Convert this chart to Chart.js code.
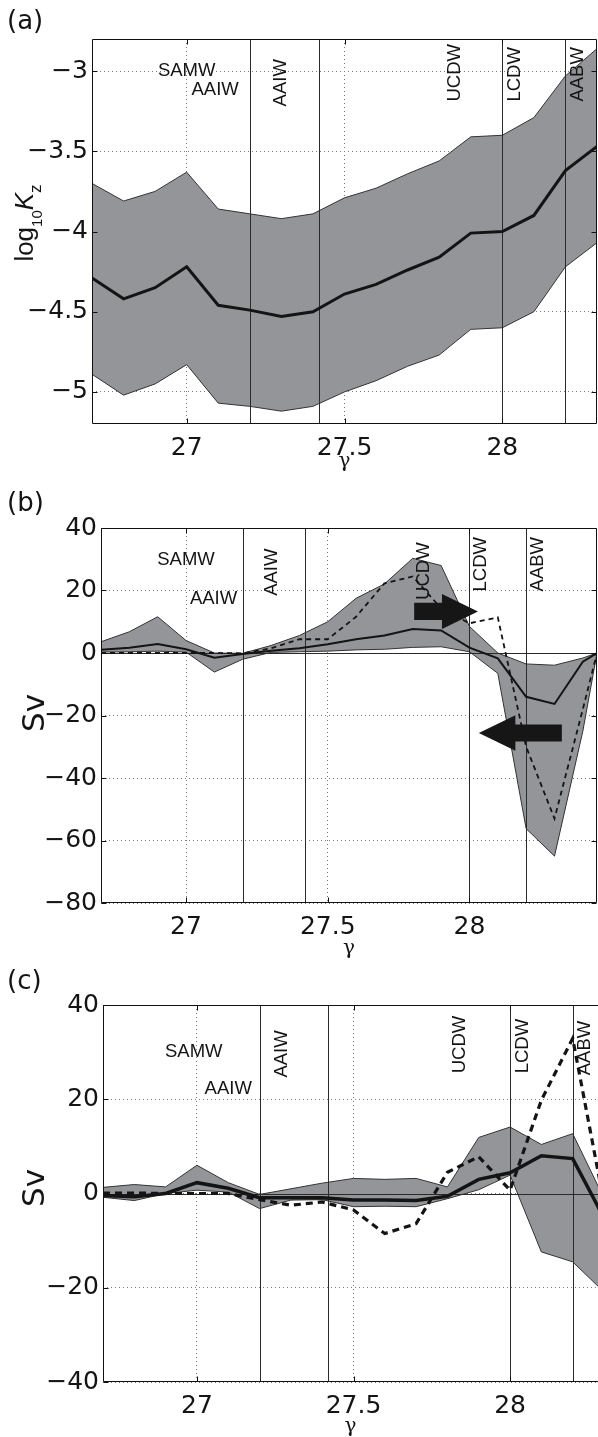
<!DOCTYPE html>
<html>
<head>
<meta charset="utf-8">
<script src="https://cdn.jsdelivr.net/npm/chart.js@4.4.1/dist/chart.umd.min.js"></script>
<style>
  html, body { margin: 0; padding: 0; background: #fff; }
  body { width: 598px; height: 1437px; overflow: hidden; position: relative; }
  canvas { position: absolute; left: 0; }
</style>
</head>
<body>
<canvas id="panelA" width="598" height="480" style="top:0px"></canvas>
<canvas id="panelB" width="598" height="480" style="top:480px"></canvas>
<canvas id="panelC" width="606" height="477" style="top:960px"></canvas>
<script>
// neutral density classes (gamma), one value every 0.1
const gammaA = [26.7, 26.8, 26.9, 27.0, 27.1, 27.2, 27.3, 27.4, 27.5, 27.6, 27.7, 27.8, 27.9, 28.0, 28.1, 28.2, 28.3];
const gammaB = [26.7, 26.8, 26.9, 27.0, 27.1, 27.2, 27.3, 27.4, 27.5, 27.6, 27.7, 27.8, 27.9, 28.0, 28.1, 28.2, 28.3, 28.4, 28.45];
const gammaC = [26.7, 26.8, 26.9, 27.0, 27.1, 27.2, 27.3, 27.4, 27.5, 27.6, 27.7, 27.8, 27.9, 28.0, 28.1, 28.2, 28.3];

// (a) log10 Kz
const kzUpper = [-3.70, -3.81, -3.75, -3.63, -3.86, -3.89, -3.92, -3.89, -3.79, -3.73, -3.64, -3.56, -3.41, -3.40, -3.29, -3.03, -2.86];
const kzMean  = [-4.29, -4.42, -4.35, -4.22, -4.46, -4.49, -4.53, -4.50, -4.39, -4.33, -4.24, -4.16, -4.01, -4.00, -3.90, -3.62, -3.47];
const kzLower = [-4.89, -5.02, -4.95, -4.83, -5.07, -5.09, -5.12, -5.09, -5.00, -4.93, -4.84, -4.77, -4.61, -4.60, -4.50, -4.22, -4.07];

// (b) transport, Sv
const svUpperB = [3.6, 6.8, 11.6, 4.0, 0.0, -0.1, 2.4, 5.6, 10.0, 17.5, 22.1, 30.3, 28.0, 8.5, 0.0, -3.5, -3.9, -1.6, 0];
const svLowerB = [0.3, 0.4, 0.6, 0.3, -6.1, -2.0, 0.2, 0.4, 0.6, 1.0, 1.2, 1.8, 2.0, 0.4, -6.5, -56.2, -65.0, -25.0, 0];
const svMeanB  = [1.0, 1.7, 2.9, 1.2, -1.5, -0.3, 0.7, 1.5, 2.8, 4.4, 5.6, 7.7, 7.2, 1.7, -1.7, -14.0, -16.3, -2.8, 0];
const svDashB  = [0, 0, 0, 0, 0, -0.1, 1.5, 4.4, 4.4, 11.6, 22.3, 24.5, 14.3, 9.5, 11.4, -30.0, -53.0, -18.0, 0];

// (c) transport, Sv
const svUpperC = [1.3, 1.9, 1.4, 6.0, 2.3, -0.2, 1.0, 2.2, 3.2, 3.0, 3.2, 1.4, 11.9, 14.1, 10.4, 12.7, -1.0];
const svLowerC = [-0.8, -1.5, 0, 0.7, 0.3, -3.2, -1.4, -1.3, -2.8, -2.7, -2.8, -1.1, 0.8, 3.9, -12.4, -14.5, -20.9];
const svMeanC  = [-0.4, -0.7, 0, 2.3, 1.1, -0.9, -0.9, -0.9, -1.4, -1.4, -1.5, -0.6, 3.0, 4.4, 8.0, 7.4, -5.2];
const svDashC  = [0.1, 0.1, 0, 0, 0, -1.3, -2.5, -1.8, -3.5, -8.5, -6.4, 4.5, 7.8, 0.7, 19.8, 32.9, -2.0];

// tick labels
const gammaTicks = [27, 27.5, 28];
const kzTicks = [-5, -4.5, -4, -3.5, -3];
const svTicksB = [-80, -60, -40, -20, 0, 20, 40];
const svTicksC = [-40, -20, 0, 20, 40];

// water mass boundaries and names
const massBounds = [27.2, 27.42, 28.0, 28.2];
const massNames = ['SAMW', 'AAIW', 'AAIW', 'UCDW', 'LCDW', 'AABW'];
const nameRotated = [false, false, true, true, true, true];
const nameGammaA = [27.0, 27.09, 27.30, 27.85, 28.04, 28.24];
const nameKzA = [-3.0, -3.12, -3.22, -3.19, -3.19, -3.19];
const nameGammaB = [27.0, 27.097, 27.303, 27.84, 28.04, 28.24];
const nameSvB = [29.8, 17.4, 18.3, 17.0, 19.7, 19.7];
const nameGammaC = [26.99, 27.10, 27.272, 27.84, 28.04, 28.24];
const nameSvC = [30.0, 22.2, 24.6, 25.5, 25.5, 25.1];

// (b) arrows: tail, neck, tip (gamma) and centre, half shaft, half head (Sv)
const arrowsB = [
  { tail: 27.805, neck: 27.903, tip: 28.03, y: 13.3, shaft: 2.75, head: 5.6 },
  { tail: 28.326, neck: 28.162, tip: 28.033, y: -25.6, shaft: 2.7, head: 5.65 },
];

const FILL = '#939598';
const EDGE = '#333333';
const INK = '#141414';
const TICK_FONT = { family: 'DejaVu Sans', size: 25 };

function pts(xs, ys) {
  return xs.map((v, i) => ({ x: v, y: ys[i] }));
}

function minusFmt(v) {
  return (v < 0 ? '\u2212' : '') + Math.abs(v);
}

function makeDecor(cfg) {
  return {
    id: 'decor' + cfg.letter,
    afterDatasetDraw(chart, args) {
      if (args.index !== 1) return;
      const { ctx, chartArea: area, scales } = chart;
      ctx.save();
      ctx.strokeStyle = '#2a2a2a';
      ctx.lineWidth = 1;
      ctx.beginPath();
      massBounds.forEach((v) => {
        const px = Math.round(scales.x.getPixelForValue(v)) + 0.5;
        ctx.moveTo(px, area.top);
        ctx.lineTo(px, area.bottom);
      });
      if (cfg.zeroLine) {
        const py = Math.round(scales.y.getPixelForValue(0)) + 0.5;
        ctx.moveTo(area.left, py);
        ctx.lineTo(area.right, py);
      }
      ctx.stroke();
      ctx.restore();
    },
    afterDraw(chart) {
      const { ctx, chartArea: area, scales } = chart;
      const sx = scales.x, sy = scales.y;
      ctx.save();

      // arrows
      ctx.fillStyle = '#161616';
      (cfg.arrows || []).forEach((a) => {
        const poly = [
          [a.tail, a.y + a.shaft], [a.neck, a.y + a.shaft], [a.neck, a.y + a.head],
          [a.tip, a.y], [a.neck, a.y - a.head], [a.neck, a.y - a.shaft], [a.tail, a.y - a.shaft],
        ];
        ctx.beginPath();
        poly.forEach((p, i) => {
          const px = sx.getPixelForValue(p[0]), py = sy.getPixelForValue(p[1]);
          if (i === 0) ctx.moveTo(px, py); else ctx.lineTo(px, py);
        });
        ctx.closePath();
        ctx.fill();
      });

      // box + inward tick marks
      const L = Math.round(area.left) + 0.5, R = Math.round(area.right) - 0.5;
      const T = Math.round(area.top) + 0.5, B = Math.round(area.bottom) - 0.5;
      ctx.strokeStyle = '#111';
      ctx.lineWidth = 1;
      ctx.beginPath();
      ctx.moveTo(L, T); ctx.lineTo(R + (cfg.noRight ? 2 : 0), T);
      ctx.moveTo(L, T); ctx.lineTo(L, B);
      ctx.moveTo(L, B); ctx.lineTo(R + (cfg.noRight ? 2 : 0), B);
      if (!cfg.noRight) { ctx.moveTo(R, T); ctx.lineTo(R, B); }
      cfg.xTicks.forEach((v) => {
        const px = Math.round(sx.getPixelForValue(v)) + 0.5;
        ctx.moveTo(px, B); ctx.lineTo(px, B - 5);
        ctx.moveTo(px, T); ctx.lineTo(px, T + 5);
      });
      cfg.yTicks.forEach((v) => {
        const py = Math.round(sy.getPixelForValue(v)) + 0.5;
        ctx.moveTo(L, py); ctx.lineTo(L + 5, py);
        if (!cfg.noRight) { ctx.moveTo(R, py); ctx.lineTo(R - 5, py); }
      });
      ctx.stroke();

      // water mass names
      ctx.fillStyle = INK;
      ctx.font = '18.5px "Liberation Sans"';
      ctx.textBaseline = 'middle';
      massNames.forEach((name, i) => {
        const px = sx.getPixelForValue(cfg.nameX[i]);
        const py = sy.getPixelForValue(cfg.nameY[i]);
        if (nameRotated[i]) {
          ctx.save();
          ctx.translate(px, py);
          ctx.rotate(-Math.PI / 2);
          ctx.textAlign = 'left';
          ctx.fillText(name, 0, 0);
          ctx.restore();
        } else {
          ctx.textAlign = 'center';
          ctx.fillText(name, px, py);
        }
      });

      // panel letter
      ctx.textBaseline = 'alphabetic';
      ctx.textAlign = 'left';
      ctx.font = '26px "DejaVu Sans"';
      ctx.fillText('(' + cfg.letter + ')', 7, cfg.letterY);

      // x title
      ctx.textAlign = 'center';
      ctx.font = '20px "DejaVu Serif"';
      ctx.fillText('\u03b3', (area.left + Math.min(area.right, 598)) / 2, cfg.gammaY);

      // y title, drawn as rotated runs (for subscripts)
      let total = 0;
      cfg.yTitle.forEach((r) => { ctx.font = r.font; total += ctx.measureText(r.text).width; });
      ctx.save();
      ctx.translate(cfg.yTitleX, cfg.yTitleCenter + total / 2);
      ctx.rotate(-Math.PI / 2);
      ctx.textAlign = 'left';
      let off = 0;
      cfg.yTitle.forEach((r) => {
        ctx.font = r.font;
        ctx.fillText(r.text, off, r.dy);
        off += ctx.measureText(r.text).width;
      });
      ctx.restore();

      ctx.restore();
    },
  };
}

function makeChart(id, cfg) {
  const datasets = [
    { data: pts(cfg.xs, cfg.upper), borderColor: EDGE, borderWidth: 1, backgroundColor: FILL, fill: '+1', order: 4 },
    { data: pts(cfg.xs, cfg.lower), borderColor: EDGE, borderWidth: 1, fill: false, order: 3 },
    { data: pts(cfg.xs, cfg.mean), borderColor: INK, borderWidth: cfg.meanWidth, fill: false, order: 1 },
  ];
  if (cfg.dash) {
    datasets.push({ data: pts(cfg.xs, cfg.dash), borderColor: INK, borderWidth: cfg.dashWidth, borderDash: cfg.dashPattern, fill: false, order: 2 });
  }
  return new Chart(document.getElementById(id), {
    type: 'line',
    data: { datasets },
    options: {
      responsive: false,
      animation: false,
      devicePixelRatio: 1,
      layout: { padding: { left: 0, top: cfg.top, right: cfg.right, bottom: 0 } },
      elements: { point: { radius: 0 }, line: { tension: 0 } },
      plugins: { legend: { display: false }, tooltip: { enabled: false } },
      scales: {
        x: {
          type: 'linear',
          min: cfg.xMin,
          max: cfg.xMax,
          afterBuildTicks: (s) => { s.ticks = gammaTicks.map((v) => ({ value: v })); },
          afterFit: (s) => { s.height = cfg.xAxisHeight; },
          grid: { color: '#7a7a7a', lineWidth: 1, drawTicks: false },
          border: { display: false, dash: [1, 3] },
          ticks: { font: TICK_FONT, color: INK, padding: 9, maxRotation: 0, autoSkip: false, callback: minusFmt },
        },
        y: {
          type: 'linear',
          min: cfg.yMin,
          max: cfg.yMax,
          afterBuildTicks: (s) => { s.ticks = cfg.yTicks.map((v) => ({ value: v })); },
          afterFit: (s) => { s.width = cfg.yAxisWidth; },
          grid: { color: '#7a7a7a', lineWidth: 1, drawTicks: false },
          border: { display: false, dash: [1, 3] },
          ticks: { font: TICK_FONT, color: INK, padding: 4, autoSkip: false, callback: minusFmt },
        },
      },
    },
    plugins: [makeDecor(cfg)],
  });
}

makeChart('panelA', {
  letter: 'a', letterY: 29, gammaY: 467,
  xs: gammaA, upper: kzUpper, lower: kzLower, mean: kzMean, meanWidth: 3,
  xMin: 26.7, xMax: 28.3, yMin: -5.2, yMax: -2.8,
  xTicks: gammaTicks, yTicks: kzTicks,
  top: 39, right: 1, xAxisHeight: 56, yAxisWidth: 92,
  nameX: nameGammaA, nameY: nameKzA,
  yTitleX: 33, yTitleCenter: 223,
  yTitle: [
    { text: 'log', font: '26px "Liberation Sans"', dy: 0 },
    { text: '10', font: '15px "Liberation Sans"', dy: 9 },
    { text: 'K', font: 'italic 26px "Liberation Sans"', dy: 0 },
    { text: 'z', font: '17px "Liberation Sans"', dy: 8 },
  ],
});

makeChart('panelB', {
  letter: 'b', letterY: 31, gammaY: 474, zeroLine: true,
  xs: gammaB, upper: svUpperB, lower: svLowerB, mean: svMeanB, meanWidth: 2,
  dash: svDashB, dashWidth: 1.8, dashPattern: [5, 4],
  xMin: 26.7, xMax: 28.45, yMin: -80, yMax: 40,
  xTicks: gammaTicks, yTicks: svTicksB,
  top: 48, right: 1, xAxisHeight: 57, yAxisWidth: 101,
  nameX: nameGammaB, nameY: nameSvB, arrows: arrowsB,
  yTitleX: 44, yTitleCenter: 233,
  yTitle: [{ text: 'Sv', font: '31px "DejaVu Sans"', dy: 0 }],
});

makeChart('panelC', {
  letter: 'c', letterY: 29, gammaY: 472, zeroLine: true, noRight: true,
  xs: gammaC, upper: svUpperC, lower: svLowerC, mean: svMeanC, meanWidth: 3.5,
  dash: svDashC, dashWidth: 3.2, dashPattern: [7, 5],
  xMin: 26.7, xMax: 28.3, yMin: -40, yMax: 40,
  xTicks: gammaTicks, yTicks: svTicksC,
  top: 45, right: 2, xAxisHeight: 55, yAxisWidth: 103,
  nameX: nameGammaC, nameY: nameSvC,
  yTitleX: 44, yTitleCenter: 228,
  yTitle: [{ text: 'Sv', font: '31px "DejaVu Sans"', dy: 0 }],
});
</script>
</body>
</html>
